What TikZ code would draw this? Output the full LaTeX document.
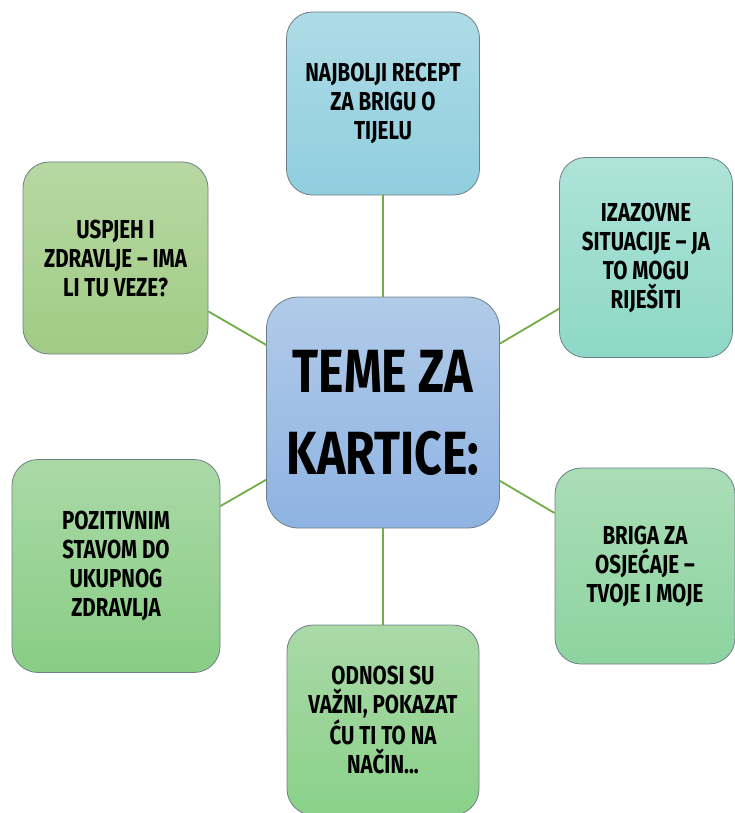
\documentclass[tikz,border=0pt]{standalone}
\usepackage{fontspec}
\setmainfont[FakeStretch=0.79]{Fira Sans}
\usepackage{tikz}
\usetikzlibrary{
  positioning, % for relative placement
}
\definecolor{linegreen}{HTML}{70AD47}
\definecolor{rim}{HTML}{6F7F88}
\tikzset{
  card/.style={ % style for each topic card
    rectangle,draw=rim,line width=0.8pt, % thin grey rim
    rounded corners=26pt, % soft corners
    align=center, % centred lines of text
    inner sep=0pt,
    font=\fontsize{26}{29}\selectfont\bfseries,
  },
  hub/.style={ % style for the central card
    card,
    rounded corners=32pt,
    minimum width=233pt,minimum height=231pt,
    top color=cenTop,bottom color=cenBot,
    font=\fontsize{61}{82}\selectfont\bfseries,
  },
  conn/.style={ % style for the connections
    draw=linegreen,line width=1.8pt,
  },
}
\definecolor{cenTop}{HTML}{B1CBE9}
\definecolor{cenBot}{HTML}{8EB3E2}
\definecolor{topTop}{HTML}{AEDBE6}
\definecolor{topBot}{HTML}{90CEDF}
\definecolor{trTop}{HTML}{AEE3D9}
\definecolor{trBot}{HTML}{8DD8C6}
\definecolor{tlTop}{HTML}{B7D8A2}
\definecolor{tlBot}{HTML}{A1CB85}
\definecolor{blTop}{HTML}{AAD9A7}
\definecolor{blBot}{HTML}{89CD84}
\definecolor{brTop}{HTML}{AADDB6}
\definecolor{brBot}{HTML}{8DD4A0}
\definecolor{btTop}{HTML}{AAD9A7}
\definecolor{btBot}{HTML}{8AD189}

\begin{document}
\begin{tikzpicture}[x=1pt,y=-1pt]
	\useasboundingbox (0,0) rectangle (735,813);

	\node[hub] (teme) at (383,412.5) {TEME ZA\\KARTICE:};

	\node[card,minimum width=193pt,minimum height=183pt,top color=topTop,bottom color=topBot] (tijelo) at (383,103.5) {NAJBOLJI RECEPT\\ZA BRIGU O\\TIJELU};
	\node[card,minimum width=173pt,minimum height=200pt,top color=trTop,bottom color=trBot] (situacije) at (646,257.5) {IZAZOVNE\\SITUACIJE -- JA\\TO MOGU\\RIJEŠITI};
	\node[card,minimum width=185pt,minimum height=192pt,top color=tlTop,bottom color=tlBot] (uspjeh) at (115.5,258) {USPJEH I\\ZDRAVLJE -- IMA\\LI TU VEZE?};
	\node[card,minimum width=208pt,minimum height=213pt,top color=blTop,bottom color=blBot] (stav) at (116,566) {POZITIVNIM\\STAVOM DO\\UKUPNOG\\ZDRAVLJA};
	\node[card,minimum width=180pt,minimum height=196pt,top color=brTop,bottom color=brBot] (osjecaji) at (645,566) {BRIGA ZA\\OSJEĆAJE --\\TVOJE I MOJE};
	\node[card,minimum width=192pt,minimum height=190pt,top color=btTop,bottom color=btBot] (odnosi) at (383,720) {ODNOSI SU\\VAŽNI, POKAZAT\\ĆU TI TO NA\\NAČIN...};

	\draw[conn] (teme) -- (tijelo);
	\draw[conn] (teme) -- (situacije);
	\draw[conn] (teme) -- (uspjeh);
	\draw[conn] (teme) -- (stav);
	\draw[conn] (teme) -- (osjecaji);
	\draw[conn] (teme) -- (odnosi);

\end{tikzpicture}
\end{document}
